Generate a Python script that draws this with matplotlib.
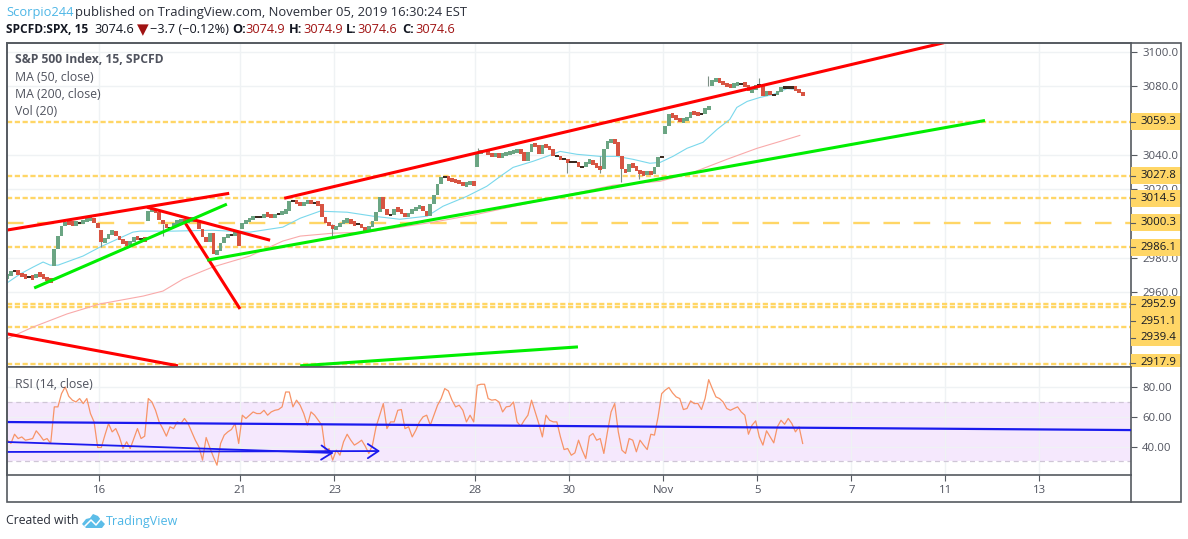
import matplotlib
matplotlib.use("Agg")
import matplotlib.pyplot as plt
from matplotlib.patches import Rectangle, Polygon

plt.rcParams['font.family'] = ['Open Sans', 'DejaVu Sans']

# closes, one list per trading day (15 min bars, every second one)
dias_close = [
    [2969.3, 2972.2, 2972.2, 2970.5, 2969.3, 2968.8, 2968.8, 2968.2, 2970.5, 2969.9, 2968.2, 2967.0, 2966.4],
    [2985.0, 2992.6, 2998.4, 3000.7, 3000.1, 2999.5, 3000.1, 3000.1, 3001.3, 3002.4, 3003.0, 3000.1, 2997.2],
    [2989.1, 2990.8, 2993.7, 2995.5, 2992.6, 2990.2, 2988.5, 2987.9, 2989.1, 2992.0, 2990.8, 2990.8, 2990.2],
    [3007.1, 3008.2, 3006.5, 3001.9, 2999.5, 2997.2, 2997.2, 3000.1, 3000.7, 3001.3, 3000.7, 3001.9, 3002.4],
    [3001.3, 2996.6, 2992.0, 2989.1, 2994.3, 2982.1, 2983.9, 2988.5, 2992.0, 2993.1, 2993.1, 2994.3, 2986.8],
    [3000.1, 3001.3, 3002.4, 3003.6, 3003.6, 3003.6, 3005.3, 3004.8, 3003.6, 3005.3, 3005.3, 3006.5, 3007.1],
    [3012.9, 3012.9, 3011.7, 3010.6, 3011.7, 3013.5, 3011.7, 3011.7, 3011.2, 3003.6, 3000.1, 2998.9, 2996.6],
    [2997.8, 3000.1, 3001.3, 3001.9, 3000.1, 2999.5, 2999.5, 2997.2, 2996.0, 2997.8, 3001.3, 3006.5, 3015.2],
    [3008.2, 3004.8, 3004.8, 3008.2, 3007.7, 3005.9, 3003.6, 3005.9, 3007.7, 3008.8, 3010.0, 3007.1, 3004.2],
    [3011.2, 3016.4, 3022.8, 3026.8, 3026.8, 3025.7, 3025.1, 3024.5, 3023.9, 3022.2, 3023.3, 3023.9, 3022.8],
    [3041.3, 3041.9, 3041.9, 3040.2, 3039.6, 3040.2, 3039.0, 3040.2, 3040.8, 3041.3, 3041.9, 3042.5, 3041.3],
    [3036.1, 3041.3, 3046.0, 3045.4, 3040.2, 3045.4, 3044.8, 3043.1, 3039.0, 3039.0, 3037.3, 3037.3, 3035.5],
    [3035.5, 3035.5, 3032.6, 3032.6, 3035.5, 3036.7, 3034.4, 3033.2, 3031.5, 3043.1, 3047.7, 3048.3, 3047.2],
    [3039.0, 3031.5, 3029.7, 3034.4, 3033.2, 3030.3, 3029.7, 3028.6, 3030.3, 3028.6, 3032.6, 3038.4, 3038.4],
    [3056.4, 3063.4, 3062.3, 3061.1, 3059.4, 3060.5, 3061.1, 3064.6, 3064.0, 3063.4, 3063.4, 3066.9, 3067.5],
    [3083.2, 3083.7, 3082.6, 3080.8, 3080.3, 3079.7, 3080.8, 3081.4, 3081.4, 3080.3, 3076.8, 3077.4, 3080.8],
    [3080.8, 3073.9, 3076.8, 3075.0, 3075.0, 3076.8, 3079.1, 3079.1, 3079.1, 3079.1, 3077.9, 3076.2, 3074.6],
]
# opening price of the first bar of each day
dias_open = [2968.8, 2975.2, 2996.0, 3001.3, 3002.4, 2996.6, 3007.1, 2996.6, 3015.2, 3004.2,
             3032.6, 3041.3, 3035.5, 3047.2, 3051.8, 3079.7, 3080.8]

# the long wicks
pavio_dia = [0.03, 1.35, 4.94, 9.94, 10.65, 11.1, 11.47, 12.95, 14.03, 8.05]
pavio_min = [2986.2, 2992.6, 2992.6, 3029.1, 3029.1, 3023.9, 3025.7, 3079.7, 3079.1, 3038.0]
pavio_max = [2990.8, 2999.5, 2999.5, 3036.0, 3039.0, 3032.0, 3030.3, 3086.0, 3084.9, 3044.0]

ma50_dia = [-1.97, -1.69, -1.41, -1.2, -1.05, -0.88, -0.35, 0.01, 0.29, 0.71, 0.86, 1.56, 2.41, 3.2, 3.9,
            4.27, 4.69, 5.27, 5.82, 6.39, 6.97, 7.31, 7.82, 8.24, 8.59, 8.8, 9.22, 9.52, 9.8, 10.16, 10.65,
            11.01, 11.35, 11.71, 11.93, 12.2, 12.5, 12.84, 13.14, 13.41, 13.56, 13.78, 14.05, 14.33, 14.63, 14.84]
ma50 = [2965.3, 2970.5, 2974.6, 2977.5, 2975.7, 2975.7, 2981.0, 2986.2, 2989.7, 2994.9, 2995.5, 2995.5, 2996.0,
        2994.9, 2997.8, 3003.0, 3007.1, 3006.5, 3004.2, 3002.4, 3004.2, 3010.0, 3015.8, 3021.6, 3028.6, 3032.6,
        3036.1, 3039.0, 3041.9, 3040.2, 3039.0, 3039.0, 3037.3, 3035.0, 3035.5, 3039.0, 3043.7, 3047.2, 3054.7,
        3060.5, 3067.5, 3071.0, 3073.3, 3075.0, 3078.5, 3077.9]

ma200_dia = [-1.97, -1.41, -0.69, 0.01, 0.93, 1.35, 1.78, 2.41, 3.2, 3.9, 4.27, 4.97, 5.69, 7.1, 8.03, 9.22,
             10.93, 11.93, 12.63, 13.35, 13.99, 14.48, 14.9]
ma200 = [2932.8, 2939.7, 2947.3, 2953.1, 2957.7, 2960.6, 2967.6, 2974.6, 2981.0, 2989.7, 2992.6, 2994.3, 2994.9,
         3000.7, 3005.3, 3012.3, 3022.2, 3024.5, 3029.7, 3037.3, 3043.7, 3047.7, 3051.2]

# rsi, same days as the closes
dias_rsi = [
    [44.3, 42.1, 48.3, 45.4, 46.5, 44.3, 44.8, 45.4, 50.6, 47.7, 44.3, 45.4, 42.1],
    [66.7, 66.7, 75.6, 80.1, 73.8, 71.2, 70.0, 72.3, 68.9, 72.3, 62.2, 56.6, 39.4],
    [39.4, 47.7, 55.5, 49.9, 52.1, 46.5, 38.7, 43.2, 38.7, 45.4, 52.1, 45.4, 47.0],
    [72.3, 70.0, 64.4, 56.6, 52.1, 47.0, 53.3, 52.1, 56.6, 55.5, 58.9, 55.5, 49.9],
    [44.3, 39.8, 30.9, 46.1, 39.4, 33.1, 27.5, 42.1, 47.7, 49.9, 51.5, 55.5, 42.1],
    [61.1, 58.9, 61.1, 63.3, 62.2, 62.2, 64.4, 61.1, 63.3, 64.4, 64.9, 66.7, 76.7],
    [76.7, 66.7, 71.2, 67.8, 62.2, 54.4, 63.3, 61.1, 57.7, 54.4, 36.5, 38.7, 30.9],
    [37.6, 34.2, 43.2, 48.3, 44.3, 41.0, 42.5, 44.3, 40.3, 35.4, 41.0, 53.3, 61.1],
    [68.9, 52.1, 56.6, 56.6, 64.4, 64.9, 52.1, 53.3, 46.5, 51.0, 56.6, 60.0, 61.1],
    [54.4, 61.1, 67.8, 72.3, 79.0, 77.4, 71.2, 66.7, 67.8, 64.4, 56.6, 61.1, 56.6],
    [81.2, 81.9, 81.9, 72.3, 71.2, 71.6, 70.0, 63.3, 66.7, 67.1, 70.0, 56.6, 53.7],
    [57.7, 61.1, 71.2, 63.3, 55.5, 46.5, 61.1, 57.7, 56.6, 56.6, 46.5, 38.0, 38.7],
    [34.2, 35.8, 44.3, 37.6, 32.0, 47.0, 48.8, 44.3, 45.4, 35.4, 49.9, 63.3, 68.9],
    [49.9, 37.6, 35.4, 45.4, 44.3, 36.5, 44.3, 41.0, 38.0, 48.3, 47.7, 60.0, 75.6],
    [78.0, 79.7, 76.1, 73.4, 72.3, 64.9, 65.6, 70.7, 68.9, 69.0, 64.9, 72.3, 85.0],
    [79.0, 73.4, 72.3, 70.0, 65.6, 64.4, 65.6, 66.7, 63.3, 61.1, 48.3, 54.4, 57.3],
    [46.5, 41.0, 50.6, 46.5, 42.5, 53.3, 57.7, 55.0, 58.9, 55.5, 49.9, 53.3, 42.1],
]

# horizontal levels
niveis = [3059.3, 3027.8, 3014.5, 2986.1, 2952.9, 2951.1, 2939.4, 2917.9]
nivel_longo = 3000.3
etiquetas = ['3059.3', '3027.8', '3014.5', '3000.3', '2986.1', '2952.9', '2951.1', '2939.4', '2917.9']
etiquetas_y = [3059.3, 3027.8, 3014.5, 3000.3, 2986.1, 2952.9, 2943.0, 2933.5, 2918.8]

# drawn trend lines
linhas_vermelhas = [((-1.97, 2.76), (2996.1, 3017.5)),
                    ((1.01, 3.63), (3009.4, 2990.2)),
                    ((1.8, 2.99), (3001.3, 2950.2)),
                    ((3.93, 17.97), (3014.6, 3105.2)),
                    ((-1.97, 1.67), (2935.7, 2917.1))]
linhas_verdes = [((-1.39, 2.71), (2962.4, 3011.2)),
                 ((2.29, 18.84), (2978.6, 3059.9)),
                 ((4.27, 10.18), (2917.1, 2928.1))]
rsi_linha_dia = [-1.97, 21.95]
rsi_linha = [56.5, 51.1]
setas_rsi = [((-1.97, 43.1), (4.98, 35.7)), ((-1.97, 36.4), (5.97, 37.0))]

preco_ticks = [3100, 3080, 3040, 3020, 2980, 2960]
rsi_ticks = [80, 40, 60]
dia_ticks = [0, 3, 5, 8, 10, 12, 14, 16, 18, 20]
dia_labels = ['16', '21', '23', '28', '30', 'Nov', '5', '7', '11', '13']

LARG, ALT = 1188, 539
COR_NIVEL = '#ffd666'
COR_TEXTO = '#50535e'
VERMELHO = '#a01313'


def px(x):
    return x / LARG


def py(y):
    return 1 - y / ALT


fig = plt.figure(figsize=(LARG / 100, ALT / 100), dpi=100)
ax = fig.add_axes([px(7), py(367), px(1131) - px(7), py(43) - py(367)])
ax2 = fig.add_axes([px(7), py(475), px(1131) - px(7), py(367) - py(475)], sharex=ax)

ax.set_xlim(-1.968, 21.947)
ax.set_ylim(2916.4, 3105.0)
ax2.set_ylim(20.9, 93.5)

for a in (ax, ax2):
    a.set_axisbelow(True)
    a.grid(True, color='#eff2f4', linewidth=1)
    for lado in a.spines.values():
        lado.set_color('#555a60')
        lado.set_linewidth(1.2)
    a.yaxis.tick_right()
    a.tick_params(axis='y', length=4, width=0.8, color='#555a60', labelcolor=COR_TEXTO, labelsize=8.2, pad=4)

ax.set_yticks(preco_ticks, [f'{v:.1f}' for v in preco_ticks])
ax2.set_yticks(rsi_ticks, [f'{v:.2f}' for v in rsi_ticks])
ax2.set_xticks(dia_ticks, dia_labels)
ax2.tick_params(axis='x', length=4, width=0.8, color='#555a60', labelcolor=COR_TEXTO, labelsize=8.2, pad=3)
ax.tick_params(axis='x', length=0, labelbottom=False)

# levels under the candles
for nivel in niveis:
    ax.axhline(nivel, color=COR_NIVEL, linewidth=1.7, dashes=(2.2, 1.1), zorder=1)
ax.axhline(nivel_longo, color=COR_NIVEL, linewidth=1.7, dashes=(7, 5.8), zorder=1)

# moving averages
ax.plot(ma50_dia, ma50, color='#7ad8ec', linewidth=0.8, zorder=2)
ax.plot(ma200_dia, ma200, color='#f9aaaa', linewidth=0.8, zorder=2)

# candles
for i, closes in enumerate(dias_close):
    anterior = dias_open[i]
    for j, fecho in enumerate(closes):
        x = i - 2 + (j + 0.5) / len(closes)
        corpo = fecho - anterior
        if abs(corpo) < 0.3:
            ax.bar(x, 1.2, bottom=fecho - 0.6, width=0.078, color='#3a2a20', linewidth=0, zorder=3)
        else:
            cor = '#6ba583' if corpo > 0 else '#d75442'
            altura = max(abs(corpo), 2.6)
            ax.bar(x, altura, bottom=(fecho + anterior - altura) / 2, width=0.078, color=cor, linewidth=0, zorder=3)
        anterior = fecho
ax.vlines(pavio_dia, pavio_min, pavio_max, color='#7d8f85', linewidth=0.8, zorder=2.5)

# trend lines
for xs, ys in linhas_vermelhas:
    ax.plot(xs, ys, color='#ff0000', linewidth=2.2, solid_capstyle='butt', zorder=4)
for xs, ys in linhas_verdes:
    ax.plot(xs, ys, color='#00ee00', linewidth=2.2, solid_capstyle='butt', zorder=4)

# price labels over the axis, clipped to the pane
recorte = Rectangle((px(1131), py(367)), px(1181) - px(1131), py(43) - py(367), transform=fig.transFigure)
marcar = ax.get_yaxis_transform()
larg_eixo = 50 / 1124
for texto, y in zip(etiquetas, etiquetas_y):
    caixa = Rectangle((1, y - 4.95), larg_eixo, 9.9, transform=marcar, facecolor=COR_NIVEL,
                      edgecolor='none', clip_on=True, zorder=6)
    ax.add_patch(caixa)
    caixa.set_clip_path(recorte)
    ax.plot([1, 1 + 4 / 1124], [y, y], transform=marcar, color='#555a60', linewidth=0.8, clip_on=False, zorder=7)
    rotulo = ax.text(1 + 9.5 / 1124, y, texto, transform=marcar, fontsize=8.2, color='#131722',
                     va='center', ha='left', zorder=7, clip_on=True)
    rotulo.set_clip_path(recorte)

# rsi pane
ax2.axhspan(30, 70, facecolor='#f5e8fd', edgecolor='none', zorder=0.2)
ax2.axhline(70, color='#cfc6d6', linewidth=0.9, dashes=(4, 3), zorder=1)
ax2.axhline(30, color='#cfc6d6', linewidth=0.9, dashes=(4, 3), zorder=1)
rsi_x = []
rsi_y = []
for i, valores in enumerate(dias_rsi):
    for j, v in enumerate(valores):
        rsi_x.append(i - 2 + (j + 0.5) / len(valores))
        rsi_y.append(v)
ax2.plot(rsi_x, rsi_y, color='#f79468', linewidth=0.9, zorder=2)
ax2.plot(rsi_linha_dia, rsi_linha, color='#1a1aee', linewidth=1.6, zorder=3)
for inicio, fim in setas_rsi:
    ax2.annotate('', xy=fim, xytext=inicio, zorder=3, annotation_clip=False,
                 arrowprops=dict(arrowstyle='->,head_length=0.45,head_width=0.3', color='#1a1aee', linewidth=1.3,
                                 mutation_scale=17, shrinkA=0, shrinkB=0))

# legends in the panes
fig.text(px(15), py(60), 'S&P 500 Index, 15, SPCFD', fontsize=8.7, fontweight='bold', color=COR_TEXTO, va='center')
fig.text(px(15), py(77.5), 'MA (50, close)', fontsize=8.8, color=COR_TEXTO, va='center')
fig.text(px(15), py(94.5), 'MA (200, close)', fontsize=8.8, color=COR_TEXTO, va='center')
fig.text(px(15), py(111.5), 'Vol (20)', fontsize=8.8, color=COR_TEXTO, va='center')
fig.text(px(15), py(385), 'RSI (14, close)', fontsize=8.8, color=COR_TEXTO, va='center', zorder=8)

# outer frame
fig.add_artist(Rectangle((px(6.5), py(502)), px(1181) - px(6.5), py(43) - py(502), transform=fig.transFigure,
                         fill=False, edgecolor='#555a60', linewidth=1.2))
fig.add_artist(plt.Line2D([px(1131), px(1131)], [py(475), py(502)], color='#555a60', linewidth=1.2))

# header
fig.text(px(6), py(12.5), 'Scorpio244', fontsize=9.3, color='#4db6e6', va='center')
fig.text(px(75), py(12.5), 'published on TradingView.com, November 05, 2019 16:30:24 EST',
         fontsize=9.35, color='#2a2e39', va='center')
fig.text(px(6), py(29.5), 'SPCFD:SPX, 15', fontsize=8.6, fontweight='bold', color='#131722', va='center')
fig.text(px(94), py(29.5), '3074.6', fontsize=9.2, color='#131722', va='center')
fig.text(px(137), py(29.5), '▼', fontsize=11, color=VERMELHO, va='center', family=['DejaVu Sans'])
fig.text(px(150), py(29.5), '−3.7 (−0.12%)', fontsize=9.2, color='#131722', va='center')
for cab, x1, valor, x2 in [('O:', 232, '3074.9', 245), ('H:', 289, '3074.9', 303),
                           ('L:', 346, '3074.6', 357), ('C:', 402, '3074.6', 415)]:
    fig.text(px(x1), py(29.5), cab, fontsize=9.2, fontweight='bold', color='#131722', va='center')
    fig.text(px(x2), py(29.5), valor, fontsize=9.2, color=VERMELHO, va='center')

# footer with the logo
fig.text(px(6), py(521), 'Created with', fontsize=8.8, color='#2a2e39', va='center')
nuvem = [(82, 524), (86, 519), (90, 518), (93, 514), (98, 516), (101, 520), (105, 524), (102, 528), (86, 528)]
fig.add_artist(Polygon([(px(a), py(b)) for a, b in nuvem], closed=True, transform=fig.transFigure,
                       facecolor='#5cbde8', edgecolor='none'))
fig.add_artist(plt.Line2D([px(85), px(91), px(96), px(101)], [py(526), py(520), py(525), py(519)],
                          color='white', linewidth=1.1))
fig.text(px(106), py(521), 'TradingView', fontsize=9, color='#4db6e6', va='center')

fig.savefig('out.png', dpi=100)
